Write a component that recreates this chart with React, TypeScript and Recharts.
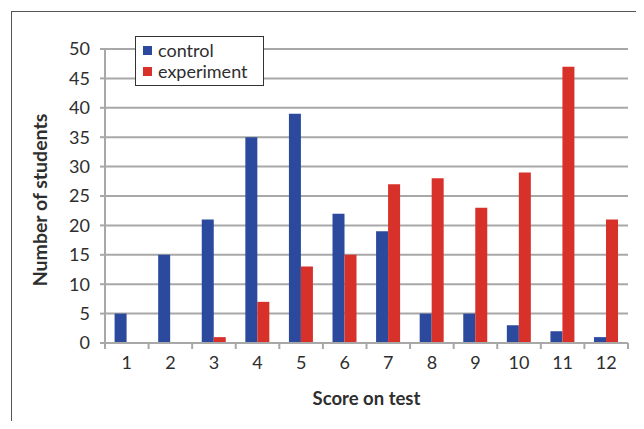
import React from 'react';
import {
  BarChart, Bar, XAxis, YAxis, CartesianGrid, Legend
} from 'recharts';

const scores = ['1', '2', '3', '4', '5', '6', '7', '8', '9', '10', '11', '12'];
const control = [5, 15, 21, 35, 39, 22, 19, 5, 5, 3, 2, 1];
const experiment = [0, 0, 1, 7, 13, 15, 27, 28, 23, 29, 47, 21];
const yTicks = [0, 5, 10, 15, 20, 25, 30, 35, 40, 45, 50];

const data = scores.map((s, i) => ({ score: s, control: control[i], experiment: experiment[i] }));

const W = 644;
const H = 429;
const M = { top: 49, right: 16, bottom: 24, left: 0 };
const Y_W = 105;
const PLOT_W = W - M.left - M.right - Y_W;
const STEP = PLOT_W / scores.length;
const TICK = 6;
const TICK_GAP = 6;

const FONT = 'Lato, "Open Sans", sans-serif';
const TEXT = '#2e2e2e';
const GRID = '#a8a8a8';
const BLUE = '#2b4a9e';
const RED = '#d8312a';

// Excel-style ticks: marks sit on the category boundaries, labels in the middle
const ScoreTick = (props: any) => {
  const { x, y, payload, index } = props;
  const y0 = y - TICK_GAP - TICK;
  const y1 = y - TICK_GAP;
  const left = x - STEP / 2;
  return (
    <g>
      <line x1={left} x2={left} y1={y0} y2={y1} stroke={GRID} strokeWidth={2} />
      {index === scores.length - 1 && (
        <line x1={x + STEP / 2} x2={x + STEP / 2} y1={y0} y2={y1} stroke={GRID} strokeWidth={2} />
      )}
      <text x={x} y={y} dy={14} textAnchor="middle" fill={TEXT} fontSize={18} fontFamily={FONT}>
        {payload.value}
      </text>
    </g>
  );
};

const LegendBox = () => (
  <div style={{
    border: '1px solid #333', background: '#fff', padding: '3px 15px 3px 7px',
    fontFamily: FONT, fontSize: 18, color: TEXT, lineHeight: '21px'
  }}>
    {[{ name: 'control', color: BLUE }, { name: 'experiment', color: RED }].map((e) => (
      <div key={e.name} style={{ display: 'flex', alignItems: 'center' }}>
        <span style={{ width: 9, height: 9, background: e.color, marginRight: 6, display: 'inline-block' }} />
        {e.name}
      </div>
    ))}
  </div>
);

const App = () => {
  return (
    <div style={{ position: 'relative', width: W, height: H, margin: -8, overflow: 'hidden', background: '#fff' }}>
      <div style={{
        position: 'absolute', left: 11, top: 11, width: W, height: H,
        borderLeft: '1px solid #555', borderTop: '1px solid #555'
      }} />
      <BarChart
        width={W}
        height={H}
        data={data}
        margin={M}
        barCategoryGap="22%"
        barGap={0}
      >
        <CartesianGrid vertical={false} stroke={GRID} strokeWidth={2} />
        <XAxis
          dataKey="score"
          height={62}
          stroke={GRID}
          strokeWidth={2}
          tickLine={{ stroke: 'none' }}
          tickSize={TICK}
          tickMargin={TICK_GAP}
          tick={<ScoreTick />}
          interval={0}
          label={{
            value: 'Score on test', position: 'insideBottom', offset: 0,
            style: { fill: TEXT, fontSize: 18.5, fontWeight: 700, fontFamily: FONT }
          }}
        />
        <YAxis
          width={Y_W}
          domain={[0, 50]}
          ticks={yTicks}
          interval={0}
          stroke={GRID}
          strokeWidth={2}
          tickSize={5}
          tickMargin={10}
          tick={{ fill: TEXT, fontSize: 18, fontFamily: FONT }}
          label={{
            value: 'Number of students', angle: -90, position: 'insideLeft', offset: 40, dy: 4,
            style: { textAnchor: 'middle', fill: TEXT, fontSize: 19.5, fontWeight: 700, fontFamily: FONT }
          }}
        />
        <Legend
          layout="horizontal"
          align="center"
          verticalAlign="middle"
          content={<LegendBox />}
          wrapperStyle={{ left: 135, top: 36, width: 'auto' }}
        />
        <Bar dataKey="control" fill={BLUE} isAnimationActive={false} />
        <Bar dataKey="experiment" fill={RED} isAnimationActive={false} />
      </BarChart>
    </div>
  );
};

export default App;
